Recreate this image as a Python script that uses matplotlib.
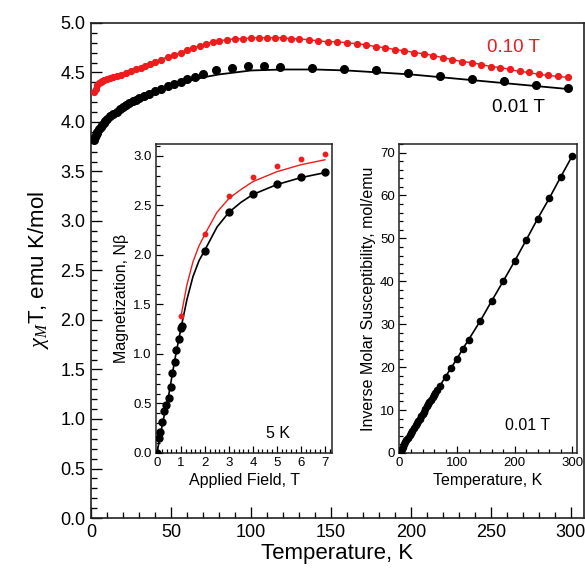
import matplotlib
matplotlib.use("Agg")
import matplotlib.pyplot as plt
from matplotlib.ticker import MultipleLocator

plt.rcParams['font.family'] = ['Liberation Sans', 'DejaVu Sans']
plt.rcParams['mathtext.fontset'] = 'custom'
plt.rcParams['mathtext.it'] = 'Liberation Serif:italic'

# main plot: chi_M T vs T
t_black = [1.8, 2.5, 3, 3.5, 4, 5, 6, 7, 8, 9, 10, 12, 14, 16, 18, 20, 22, 24, 26, 28, 30,
           33, 36, 40, 44, 48, 52, 56, 60, 65, 70, 78, 88, 98, 108, 118, 138, 158, 178,
           198, 218, 238, 258, 278, 298]
chit_black = [3.82, 3.85, 3.87, 3.89, 3.90, 3.93, 3.95, 3.97, 3.99, 4.01, 4.03, 4.06, 4.08,
              4.10, 4.13, 4.15, 4.17, 4.19, 4.21, 4.22, 4.24, 4.26, 4.28, 4.31, 4.33, 4.36,
              4.38, 4.40, 4.43, 4.45, 4.48, 4.52, 4.55, 4.57, 4.57, 4.56, 4.55, 4.53, 4.52,
              4.49, 4.46, 4.43, 4.41, 4.37, 4.34]
t_black_fit = [2, 5, 10, 20, 30, 40, 50, 60, 70, 80, 90, 100, 120, 140, 160, 180, 200, 220,
               240, 260, 280, 300]
chit_black_fit = [3.82, 3.92, 4.02, 4.14, 4.23, 4.30, 4.36, 4.41, 4.45, 4.48, 4.50, 4.52,
                  4.53, 4.53, 4.52, 4.50, 4.48, 4.45, 4.42, 4.39, 4.36, 4.33]

t_red = [2, 3, 4, 5, 6, 7, 8, 10, 12, 14, 16, 19, 22, 25, 28, 31, 34, 37, 40, 44, 48, 52,
         56, 60, 64, 68, 72, 76, 80, 85, 90, 95, 100, 105, 110, 115, 120, 125, 130, 136,
         142, 148, 154, 160, 166, 172, 178, 184, 190, 196, 202, 208, 214, 220, 226, 232,
         238, 244, 250, 256, 262, 268, 274, 280, 286, 292, 298]
chit_red = [4.30, 4.33, 4.37, 4.39, 4.40, 4.41, 4.42, 4.43, 4.44, 4.45, 4.46, 4.47, 4.49,
            4.51, 4.53, 4.55, 4.57, 4.59, 4.61, 4.63, 4.66, 4.68, 4.70, 4.73, 4.75, 4.77,
            4.79, 4.81, 4.82, 4.83, 4.84, 4.84, 4.85, 4.85, 4.85, 4.85, 4.85, 4.84, 4.84,
            4.83, 4.82, 4.81, 4.81, 4.80, 4.79, 4.78, 4.76, 4.75, 4.73, 4.72, 4.70, 4.69,
            4.67, 4.65, 4.63, 4.61, 4.60, 4.58, 4.56, 4.55, 4.53, 4.51, 4.50, 4.48, 4.47,
            4.46, 4.45]

# inset 1: magnetization at 5 K
h_black = [0.0, 0.08, 0.14, 0.22, 0.31, 0.39, 0.49, 0.57, 0.64, 0.74, 0.81, 0.92, 1.0,
           1.03, 2, 3, 4, 5, 6, 7]
m_black = [0.0, 0.15, 0.21, 0.31, 0.42, 0.48, 0.55, 0.67, 0.81, 0.92, 1.04, 1.15, 1.26,
           1.28, 2.04, 2.43, 2.61, 2.72, 2.79, 2.84]
h_black_fit = [0, 0.25, 0.5, 0.75, 1.0, 1.25, 1.5, 1.75, 2, 2.5, 3, 3.5, 4, 5, 6, 7]
m_black_fit = [0, 0.32, 0.60, 0.95, 1.26, 1.55, 1.78, 1.94, 2.05, 2.28, 2.43, 2.53, 2.61,
               2.71, 2.78, 2.83]
h_red = [1, 2, 3, 4, 5, 6, 7]
m_red = [1.38, 2.21, 2.59, 2.79, 2.90, 2.97, 3.02]
h_red_fit = [1, 1.25, 1.5, 1.75, 2, 2.5, 3, 3.5, 4, 5, 6, 7]
m_red_fit = [1.38, 1.70, 1.93, 2.09, 2.21, 2.43, 2.57, 2.66, 2.74, 2.84, 2.91, 2.96]

# inset 2: inverse molar susceptibility at 0.01 T
t_inv = [2, 4, 6, 8, 10, 12, 15, 18, 20, 22, 25, 28, 30, 32, 35, 38, 40, 42, 45, 48, 50,
         52, 55, 58, 60, 62, 65, 70, 80, 90, 100, 110, 120, 140, 160, 180, 200, 220, 240,
         260, 280, 300]
inv_chi = [0.5, 1.0, 1.5, 2.0, 2.5, 3.0, 3.6, 4.3, 4.7, 5.2, 5.8, 6.5, 6.9, 7.4, 8.0, 8.7,
           9.1, 9.6, 10.2, 10.9, 11.3, 11.8, 12.4, 13.0, 13.5, 13.9, 14.6, 15.6, 17.8, 19.9,
           22.0, 24.3, 26.4, 30.7, 35.4, 40.0, 44.7, 49.6, 54.6, 59.3, 64.3, 69.2]

RED = '#ee1c1c'
W, H = 585, 571


def style_axes(ax, lw=1.2, major=6, minor=3):
    for s in ax.spines.values():
        s.set_linewidth(lw)
        s.set_color('#222222')
    ax.tick_params(which='both', direction='in', top=False, right=False, width=lw * 0.8)
    ax.tick_params(which='major', length=major)
    ax.tick_params(which='minor', length=minor)


def px_text(x, y, s, **kw):
    # place a text at a pixel position of the figure
    fig.text(x / W, 1 - y / H, s, ha='center', va='center', **kw)


fig = plt.figure(figsize=(5.85, 5.71), dpi=100)

ax = fig.add_axes([0.1556, 0.0928, 0.842, 0.867])
ax.plot(t_black_fit, chit_black_fit, '-', color='black', lw=1.3, zorder=2)
ax.plot(t_black, chit_black, 'o', color='black', ms=5.5, zorder=3)
ax.plot(t_red, chit_red, '-', color=RED, lw=1.0, zorder=2)
ax.plot(t_red, chit_red, 'o', color=RED, ms=4.2, zorder=3)
ax.set_xlim(0, 308)
ax.set_ylim(0, 5.0)
ax.xaxis.set_major_locator(MultipleLocator(50))
ax.xaxis.set_minor_locator(MultipleLocator(10))
ax.yaxis.set_major_locator(MultipleLocator(0.5))
ax.yaxis.set_minor_locator(MultipleLocator(0.1))
ax.yaxis.set_major_formatter(plt.FormatStrFormatter('%.1f'))
style_axes(ax, major=8, minor=4)
ax.tick_params(labelsize=13, pad=4)
ax.set_xlabel('Temperature, K', fontsize=16, labelpad=2)
ax.set_ylabel(r'$\chi_{M}$T, emu K/mol', fontsize=16, labelpad=7)
px_text(513, 48, '0.10 T', color=RED, fontsize=13.5)
px_text(518, 107, '0.01 T', color='black', fontsize=13.5)

# inset 1
ax1 = fig.add_axes([0.2667, 0.2067, 0.3009, 0.5412])
ax1.plot(h_black_fit, m_black_fit, '-', color='black', lw=1.2, zorder=2)
ax1.plot(h_black, m_black, 'o', color='black', ms=5, zorder=3)
ax1.plot(h_red_fit, m_red_fit, '-', color=RED, lw=1.0, zorder=2)
ax1.plot(h_red, m_red, 'o', color=RED, ms=3.2, zorder=3)
ax1.set_xlim(-0.04, 7.3)
ax1.set_ylim(0, 3.12)
ax1.xaxis.set_major_locator(MultipleLocator(1))
ax1.xaxis.set_minor_locator(MultipleLocator(0.2))
ax1.yaxis.set_major_locator(MultipleLocator(0.5))
ax1.yaxis.set_minor_locator(MultipleLocator(0.1))
ax1.yaxis.set_major_formatter(plt.FormatStrFormatter('%.1f'))
style_axes(ax1, lw=1.1, major=5, minor=3)
ax1.tick_params(labelsize=9.5, pad=3)
ax1.set_xlabel('Applied Field, T', fontsize=11.5, labelpad=3)
ax1.set_ylabel('Magnetization, Nβ', fontsize=11.5, labelpad=3)
px_text(278, 433, '5 K', fontsize=11.5)

# inset 2
ax2 = fig.add_axes([0.682, 0.2067, 0.304, 0.5412])
ax2.plot(t_inv, inv_chi, '-', color='black', lw=1.2, zorder=2)
ax2.plot(t_inv, inv_chi, 'o', color='black', ms=4.5, zorder=3)
ax2.set_xlim(-1, 308)
ax2.set_ylim(0, 72)
ax2.xaxis.set_major_locator(MultipleLocator(100))
ax2.xaxis.set_minor_locator(MultipleLocator(20))
ax2.yaxis.set_major_locator(MultipleLocator(10))
ax2.yaxis.set_minor_locator(MultipleLocator(2))
style_axes(ax2, lw=1.1, major=5, minor=3)
ax2.tick_params(labelsize=9.5, pad=3)
ax2.set_xlabel('Temperature, K', fontsize=11.5, labelpad=3)
ax2.set_ylabel('Inverse Molar Susceptibility, mol/emu', fontsize=11.5, labelpad=3)
px_text(528, 425, '0.01 T', fontsize=11.5)

fig.savefig('out.png', dpi=100)
